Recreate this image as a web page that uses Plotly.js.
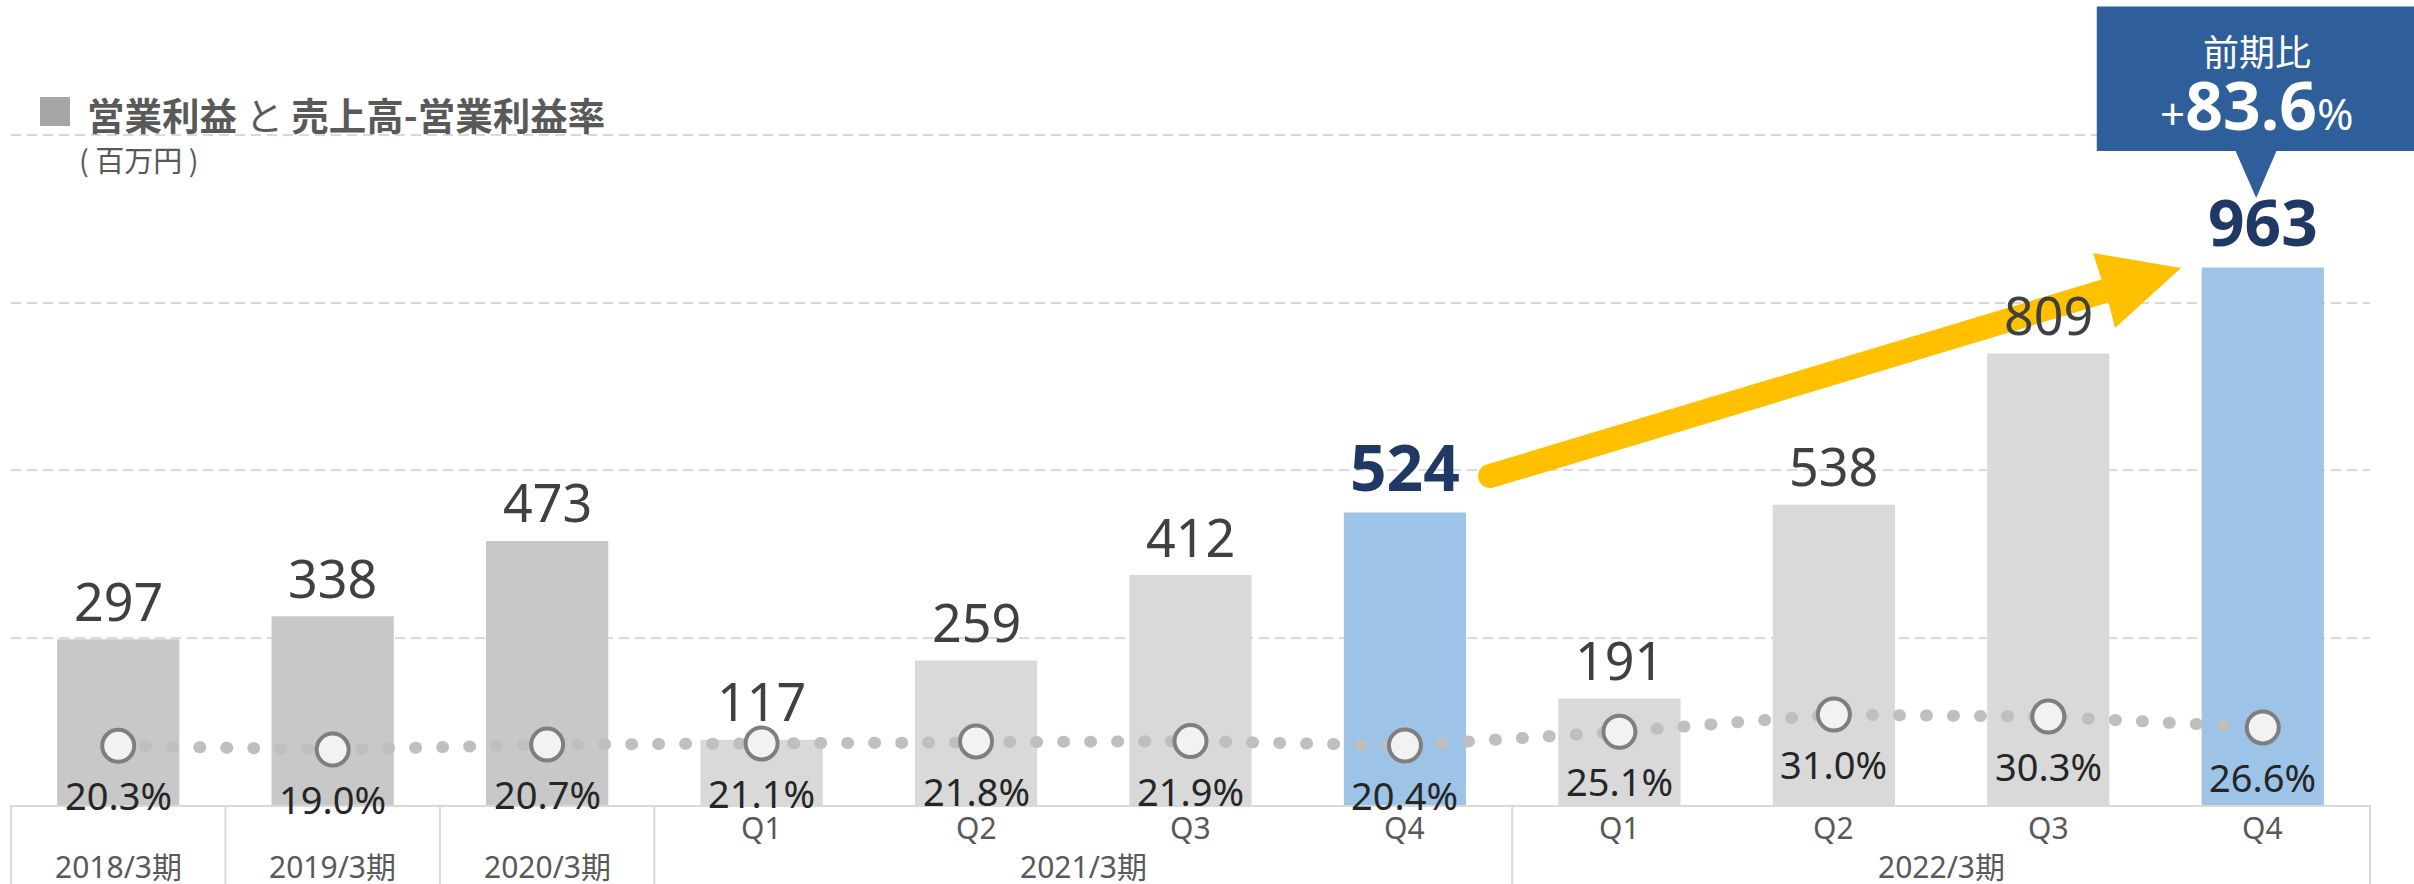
<!DOCTYPE html>
<html>
<head>
<meta charset="utf-8">
<script src="https://cdn.plot.ly/plotly-3.0.1.min.js"></script>
<style>
html, body { margin: 0; padding: 0; background: #ffffff; }
#chart { width: 2414px; height: 884px; }
.scatterlayer .js-line { stroke-linecap: round; }
</style>
</head>
<body>
<div id="chart"></div>
<script>
// ---------------- data ----------------
const periods = ['2018/3期', '2019/3期', '2020/3期', '2021/3期', '2021/3期', '2021/3期', '2021/3期', '2022/3期', '2022/3期', '2022/3期', '2022/3期'];
const quarters = ['', '', '', 'Q1', 'Q2', 'Q3', 'Q4', 'Q1', 'Q2', 'Q3', 'Q4'];
const operatingProfit = [297, 338, 473, 117, 259, 412, 524, 191, 538, 809, 963];   // 百万円
const operatingMargin = [20.3, 19.0, 20.7, 21.1, 21.8, 21.9, 20.4, 25.1, 31.0, 30.3, 26.6]; // %
const barKinds = ['annual', 'annual', 'annual', 'quarter', 'quarter', 'quarter', 'highlight', 'quarter', 'quarter', 'quarter', 'highlight'];
const yTicks = [300, 600, 900, 1200];
const titleText = '<b>営業利益</b> と <b>売上高-営業利益率</b>';
const unitText = '( 百万円 )';
const calloutHead = '前期比';
const calloutValue = '83.6';

// ---------------- styles ----------------
const kindColors = { annual: '#c8c8c8', quarter: '#d9d9d9', highlight: '#9dc3e6' };
const Y_MAX = 1202;
const Y2_MAX = 230;
const n = operatingProfit.length;
const idx = operatingProfit.map((_, i) => i);
const latinFont = 'Noto Sans, Noto Sans CJK JP, sans-serif';
const cjkFont = 'Noto Sans CJK JP, Noto Sans, sans-serif';

// ---------------- traces ----------------
const bars = {
  type: 'bar',
  x: idx,
  y: operatingProfit,
  marker: { color: barKinds.map(k => kindColors[k]), line: { width: 0 } },
  hoverinfo: 'skip',
  showlegend: false
};
const marginLine = {
  type: 'scatter',
  mode: 'lines+markers',
  x: idx,
  y: operatingMargin,
  yaxis: 'y2',
  line: { color: '#bfbfbf', width: 12, dash: '1px,26px' },
  marker: { size: 32, color: '#f2f2f2', line: { color: '#7f7f7f', width: 4 } },
  hoverinfo: 'skip',
  showlegend: false,
  cliponaxis: false
};

// ---------------- annotations ----------------
const annotations = [];
operatingProfit.forEach((v, i) => {
  const hi = barKinds[i] === 'highlight';
  annotations.push({
    xref: 'x', yref: 'y', x: i, y: v, text: String(v), showarrow: false,
    yanchor: 'middle', yshift: hi ? 46 : 39,
    font: hi ? { family: latinFont, size: 64, color: '#1f3864', weight: 'bold' }
             : { family: latinFont, size: 52, color: '#404040' }
  });
});
operatingMargin.forEach((m, i) => {
  annotations.push({
    xref: 'x', yref: 'y2', x: i, y: m, text: m.toFixed(1) + '%', showarrow: false,
    yanchor: 'middle', yshift: -49.5,
    font: { family: latinFont, size: 38, color: '#262626' }
  });
});
quarters.forEach((q, i) => {
  if (!q) return;
  annotations.push({
    xref: 'x', yref: 'paper', x: i, y: 0, text: q, showarrow: false,
    yanchor: 'middle', yshift: -22,
    font: { family: latinFont, size: 30, color: '#595959' }
  });
});
// period groups
const bounds = [0];
for (let i = 1; i < n; i++) if (periods[i] !== periods[i - 1]) bounds.push(i);
bounds.push(n);
for (let g = 0; g < bounds.length - 1; g++) {
  const s = bounds[g], e = bounds[g + 1];
  annotations.push({
    xref: 'x', yref: 'paper', x: (s + e - 1) / 2, y: 0, text: periods[s], showarrow: false,
    yanchor: 'middle', yshift: -61,
    font: { family: latinFont, size: 30, color: '#595959' }
  });
}
// title
annotations.push({
  xref: 'paper', yref: 'paper', x: 0, y: 1, xanchor: 'left', yanchor: 'middle',
  xshift: 74, yshift: 21, text: titleText, showarrow: false,
  font: { family: cjkFont, size: 37.5, color: '#595959' }
});
annotations.push({
  xref: 'paper', yref: 'paper', x: 0, y: 1, xanchor: 'left', yanchor: 'middle',
  xshift: 66, yshift: -25, text: unitText, showarrow: false,
  font: { family: cjkFont, size: 29, color: '#595959' }
});
// callout
const last = n - 1;
annotations.push({
  xref: 'x', yref: 'y', x: last, y: operatingProfit[last], xanchor: 'center', yanchor: 'middle',
  xshift: -6, yshift: 217, text: calloutHead, showarrow: false,
  font: { family: cjkFont, size: 36, color: '#ffffff' }
});
annotations.push({
  xref: 'x', yref: 'y', x: last, y: operatingProfit[last], xanchor: 'center', yanchor: 'middle',
  xshift: -6, yshift: 163,
  text: '+<span style="font-size:66px;font-weight:bold">' + calloutValue + '</span>%',
  showarrow: false,
  font: { family: latinFont, size: 44, color: '#ffffff' }
});

// ---------------- shapes ----------------
const shapes = [];
// category box dividers
bounds.forEach(b => {
  shapes.push({
    type: 'line', xref: 'x domain', x0: b / n, x1: b / n,
    yref: 'paper', ysizemode: 'pixel', yanchor: 0, y0: 0, y1: -80,
    line: { color: '#d9d9d9', width: 2 }, layer: 'above'
  });
});
// title square
shapes.push({
  type: 'rect', xref: 'paper', xsizemode: 'pixel', xanchor: 0, x0: 29, x1: 59,
  yref: 'paper', ysizemode: 'pixel', yanchor: 1, y0: 8, y1: 37,
  fillcolor: '#a6a6a6', line: { width: 0 }
});
// growth arrow, anchored at the first highlighted bar
const hiIdx = barKinds.indexOf('highlight');
shapes.push({
  type: 'path', xref: 'x', yref: 'y', xsizemode: 'pixel', ysizemode: 'pixel',
  xanchor: hiIdx, yanchor: operatingProfit[hiIdx],
  path: 'M 81.6,47.9 L 696.6,232.9 L 688.1,259.4 L 776.1,244.4 L 710.1,184.4 L 703.6,209.9 L 88.6,24.9 ' +
        'C 82.3,23.0 75.5,26.6 73.6,32.9 C 71.7,39.2 75.3,46.0 81.6,47.9 Z',
  fillcolor: '#ffc000', line: { width: 0 }, layer: 'above'
});
// callout box + pointer, anchored at the last bar
const cx = (last + 0.5) / n;
const cy = operatingProfit[last] / Y_MAX;
shapes.push({
  type: 'rect', xref: 'x domain', yref: 'y domain', xsizemode: 'pixel', ysizemode: 'pixel',
  xanchor: cx, yanchor: cy, x0: -166, x1: 160, y0: 116.4, y1: 261,
  fillcolor: '#2e5f9a', line: { width: 0 }, layer: 'above'
});
shapes.push({
  type: 'path', xref: 'x domain', yref: 'y domain', xsizemode: 'pixel', ysizemode: 'pixel',
  xanchor: cx, yanchor: cy,
  path: 'M -27.6,117.5 L 14.1,117.5 L -6.6,69.4 Z',
  fillcolor: '#2e5f9a', line: { width: 0 }, layer: 'above'
});

// ---------------- layout ----------------
const layout = {
  width: 2414, height: 884,
  margin: { l: 11, r: 44, t: 134, b: 79, pad: 0 },
  paper_bgcolor: '#ffffff', plot_bgcolor: '#ffffff',
  showlegend: false,
  bargap: 0.43,
  xaxis: {
    type: 'linear', range: [-0.5, n - 0.5], showgrid: false, zeroline: false,
    showticklabels: false, ticks: '', showline: true, linecolor: '#d9d9d9', linewidth: 2,
    fixedrange: true
  },
  yaxis: {
    range: [0, Y_MAX], tickvals: yTicks, showticklabels: false, ticks: '',
    showgrid: true, gridcolor: '#d9d9d9', gridwidth: 2, griddash: '10px,6px',
    zeroline: false, showline: false, fixedrange: true
  },
  yaxis2: {
    range: [0, Y2_MAX], overlaying: 'y', side: 'right', showgrid: false, zeroline: false,
    showticklabels: false, ticks: '', showline: false, fixedrange: true
  },
  annotations: annotations,
  shapes: shapes
};

Plotly.newPlot('chart', [bars, marginLine], layout, { staticPlot: true, displayModeBar: false });
</script>
</body>
</html>
